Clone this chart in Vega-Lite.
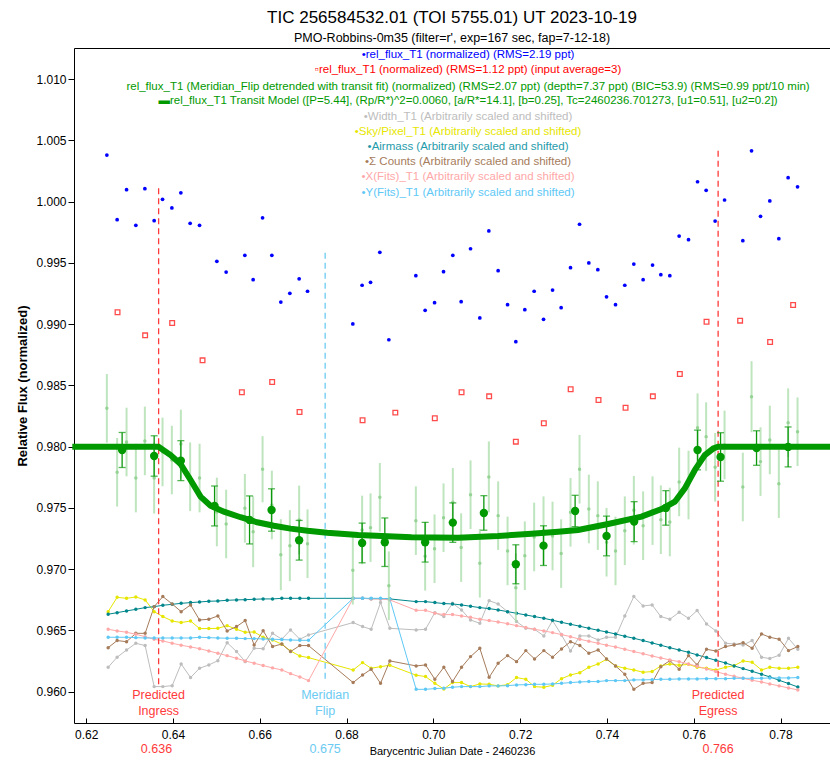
{
"$schema":"https://vega.github.io/schema/vega-lite/v6.json",
"autosize":{"type":"none"},
"padding":{"left":74,"top":48,"right":0,"bottom":39},
"width":756,"height":675,
"background":"white",
"config":{"view":{"stroke":"#000","strokeWidth":1},"font":"Liberation Sans","axis":{"grid":false,"domain":false}},
"title":{"text":"TIC 256584532.01 (TOI 5755.01) UT 2023-10-19","subtitle":"PMO-Robbins-0m35 (filter=r', exp=167 sec, fap=7-12-18)","font":"Liberation Sans","subtitleFont":"Liberation Sans","fontSize":17,"subtitleFontSize":12.5,"fontWeight":"normal","color":"#000","subtitleColor":"#000","anchor":"middle","offset":3,"subtitlePadding":5},
"datasets":{
"blue":[{"x":0.62477,"y":1.00381},{"x":0.62714,"y":0.99853},{"x":0.62931,"y":1.00098},{"x":0.63145,"y":0.99807},{"x":0.63353,"y":1.00106},{"x":0.63567,"y":0.99845},{"x":0.6376,"y":1.0002},{"x":0.63975,"y":0.99949},{"x":0.64182,"y":1.00073},{"x":0.64396,"y":0.99824},{"x":0.64613,"y":0.99807},{"x":0.65012,"y":0.99513},{"x":0.65226,"y":0.99426},{"x":0.65657,"y":0.99562},{"x":0.65848,"y":0.99363},{"x":0.66065,"y":0.99869},{"x":0.66279,"y":0.99562},{"x":0.66486,"y":0.99181},{"x":0.66694,"y":0.99252},{"x":0.66908,"y":0.99371},{"x":0.67101,"y":0.99269},{"x":0.68145,"y":0.99002},{"x":0.68359,"y":0.99318},{"x":0.68553,"y":0.99342},{"x":0.68767,"y":0.99587},{"x":0.68975,"y":0.98873},{"x":0.69597,"y":0.99396},{"x":0.69811,"y":0.99113},{"x":0.70028,"y":0.99176},{"x":0.70235,"y":0.99429},{"x":0.70449,"y":0.99562},{"x":0.70641,"y":0.99184},{"x":0.70857,"y":0.99616},{"x":0.71071,"y":0.99051},{"x":0.71279,"y":0.99761},{"x":0.71493,"y":0.99437},{"x":0.7171,"y":0.99159},{"x":0.71901,"y":0.98857},{"x":0.72108,"y":0.99118},{"x":0.72323,"y":0.99269},{"x":0.72539,"y":0.9904},{"x":0.72747,"y":0.99279},{"x":0.72945,"y":0.99135},{"x":0.73161,"y":0.99461},{"x":0.73369,"y":0.99816},{"x":0.73583,"y":0.995},{"x":0.7379,"y":0.99445},{"x":0.73991,"y":0.99224},{"x":0.74198,"y":0.99159},{"x":0.74412,"y":0.99318},{"x":0.7462,"y":0.99491},{"x":0.74834,"y":0.99363},{"x":0.75051,"y":0.99483},{"x":0.75242,"y":0.99404},{"x":0.75449,"y":0.99396},{"x":0.75664,"y":0.9972},{"x":0.7588,"y":0.9969},{"x":0.76088,"y":1.00163},{"x":0.76286,"y":1.00093},{"x":0.76493,"y":0.99842},{"x":0.7671,"y":1.00014},{"x":0.77131,"y":0.99682},{"x":0.77332,"y":1.00416},{"x":0.77539,"y":0.99881},{"x":0.77753,"y":1.00006},{"x":0.77961,"y":0.99698},{"x":0.78175,"y":1.00196},{"x":0.78392,"y":1.00122}],
"red":[{"x":0.62723,"y":0.99097},{"x":0.63359,"y":0.98909},{"x":0.63982,"y":0.9901},{"x":0.64682,"y":0.98705},{"x":0.65588,"y":0.98444},{"x":0.66286,"y":0.98528},{"x":0.66917,"y":0.98283},{"x":0.68369,"y":0.98216},{"x":0.69124,"y":0.98278},{"x":0.70034,"y":0.98232},{"x":0.7065,"y":0.98444},{"x":0.71286,"y":0.98411},{"x":0.71901,"y":0.98041},{"x":0.72546,"y":0.98191},{"x":0.73164,"y":0.98469},{"x":0.73806,"y":0.98381},{"x":0.74429,"y":0.98318},{"x":0.75058,"y":0.98411},{"x":0.7568,"y":0.98593},{"x":0.76295,"y":0.9902},{"x":0.77069,"y":0.99029},{"x":0.7776,"y":0.98855},{"x":0.7829,"y":0.99157}],
"light":[{"x":0.62477,"y":0.98313,"e":0.0028},{"x":0.62714,"y":0.97791,"e":0.0028},{"x":0.62931,"y":0.98038,"e":0.0028},{"x":0.63145,"y":0.97744,"e":0.0028},{"x":0.63353,"y":0.98047,"e":0.0028},{"x":0.63567,"y":0.97744,"e":0.0029},{"x":0.6376,"y":0.97957,"e":0.0028},{"x":0.63975,"y":0.97891,"e":0.0028},{"x":0.64182,"y":0.98022,"e":0.0028},{"x":0.64396,"y":0.97755,"e":0.0028},{"x":0.64613,"y":0.97744,"e":0.0028},{"x":0.65012,"y":0.97467,"e":0.0028},{"x":0.65226,"y":0.97369,"e":0.0028},{"x":0.65657,"y":0.97497,"e":0.0028},{"x":0.65848,"y":0.97306,"e":0.0029},{"x":0.66065,"y":0.97816,"e":0.0027},{"x":0.66279,"y":0.97524,"e":0.0028},{"x":0.66486,"y":0.97118,"e":0.0029},{"x":0.66694,"y":0.97192,"e":0.0029},{"x":0.66908,"y":0.97402,"e":0.0028},{"x":0.67101,"y":0.97208,"e":0.0028},{"x":0.68145,"y":0.96991,"e":0.0028},{"x":0.68359,"y":0.9732,"e":0.0028},{"x":0.68553,"y":0.97339,"e":0.0028},{"x":0.68767,"y":0.97587,"e":0.0028},{"x":0.68975,"y":0.96865,"e":0.0028},{"x":0.69597,"y":0.97396,"e":0.0028},{"x":0.69811,"y":0.97105,"e":0.0028},{"x":0.70028,"y":0.97167,"e":0.0028},{"x":0.70235,"y":0.9742,"e":0.0028},{"x":0.70449,"y":0.97546,"e":0.0028},{"x":0.70641,"y":0.97176,"e":0.0028},{"x":0.70857,"y":0.97608,"e":0.0028},{"x":0.71071,"y":0.97048,"e":0.0028},{"x":0.71279,"y":0.97753,"e":0.0029},{"x":0.71493,"y":0.97437,"e":0.0028},{"x":0.7171,"y":0.97149,"e":0.0028},{"x":0.71901,"y":0.96849,"e":0.0028},{"x":0.72108,"y":0.9711,"e":0.0028},{"x":0.72323,"y":0.97263,"e":0.0028},{"x":0.72539,"y":0.97314,"e":0.0028},{"x":0.72747,"y":0.97271,"e":0.0028},{"x":0.72945,"y":0.97127,"e":0.0028},{"x":0.73161,"y":0.97464,"e":0.0028},{"x":0.73369,"y":0.97816,"e":0.0028},{"x":0.73583,"y":0.97491,"e":0.0028},{"x":0.7379,"y":0.97437,"e":0.0028},{"x":0.73991,"y":0.9722,"e":0.0028},{"x":0.74198,"y":0.97149,"e":0.0028},{"x":0.74412,"y":0.97314,"e":0.0028},{"x":0.7462,"y":0.97481,"e":0.0028},{"x":0.74834,"y":0.97355,"e":0.0028},{"x":0.75051,"y":0.97478,"e":0.0028},{"x":0.75242,"y":0.97404,"e":0.0028},{"x":0.75449,"y":0.97385,"e":0.0028},{"x":0.75664,"y":0.97712,"e":0.0028},{"x":0.7588,"y":0.97687,"e":0.0028},{"x":0.76088,"y":0.98155,"e":0.0028},{"x":0.76286,"y":0.98082,"e":0.0028},{"x":0.76493,"y":0.97832,"e":0.0028},{"x":0.7671,"y":0.98014,"e":0.0028},{"x":0.77131,"y":0.97671,"e":0.0028},{"x":0.77332,"y":0.98408,"e":0.0029},{"x":0.77539,"y":0.97878,"e":0.0028},{"x":0.77753,"y":0.98055,"e":0.0028},{"x":0.77961,"y":0.97698,"e":0.0028},{"x":0.78175,"y":0.98196,"e":0.0028},{"x":0.78392,"y":0.98122,"e":0.0028}],
"binned":[{"x":0.62829,"y":0.97973,"e":0.00143},{"x":0.63567,"y":0.97924,"e":0.00165},{"x":0.64182,"y":0.97886,"e":0.00163},{"x":0.64959,"y":0.97516,"e":0.00163},{"x":0.65765,"y":0.97402,"e":0.00196},{"x":0.66272,"y":0.97483,"e":0.00173},{"x":0.66908,"y":0.97236,"e":0.00162},{"x":0.68359,"y":0.97214,"e":0.00162},{"x":0.68882,"y":0.9722,"e":0.00198},{"x":0.69811,"y":0.9722,"e":0.00162},{"x":0.70449,"y":0.9738,"e":0.00161},{"x":0.71164,"y":0.97459,"e":0.00141},{"x":0.71901,"y":0.9704,"e":0.00159},{"x":0.72539,"y":0.97192,"e":0.00162},{"x":0.73267,"y":0.97475,"e":0.00128},{"x":0.73991,"y":0.97271,"e":0.00162},{"x":0.74627,"y":0.97388,"e":0.00163},{"x":0.75357,"y":0.975,"e":0.00141},{"x":0.76088,"y":0.97973,"e":0.00162},{"x":0.76618,"y":0.97916,"e":0.00198},{"x":0.77447,"y":0.97989,"e":0.00141},{"x":0.78175,"y":0.97998,"e":0.00163}],
"model":[{"x":0.6175,"y":0.98},{"x":0.63668,"y":0.98},{"x":0.63945,"y":0.97932},{"x":0.64175,"y":0.97859},{"x":0.64406,"y":0.97728},{"x":0.64636,"y":0.97592},{"x":0.64866,"y":0.97518},{"x":0.65173,"y":0.97469},{"x":0.65558,"y":0.97424},{"x":0.6594,"y":0.97383},{"x":0.66325,"y":0.97355},{"x":0.6671,"y":0.97331},{"x":0.67101,"y":0.97314},{"x":0.67553,"y":0.97298},{"x":0.68267,"y":0.97279},{"x":0.69498,"y":0.9726},{"x":0.70571,"y":0.97257},{"x":0.71493,"y":0.97271},{"x":0.72263,"y":0.9729},{"x":0.72876,"y":0.97306},{"x":0.73336,"y":0.9732},{"x":0.74028,"y":0.97369},{"x":0.74797,"y":0.97429},{"x":0.75258,"y":0.97491},{"x":0.75565,"y":0.97551},{"x":0.75795,"y":0.9766},{"x":0.76026,"y":0.9781},{"x":0.76256,"y":0.97932},{"x":0.7645,"y":0.97985},{"x":0.76562,"y":0.98},{"x":0.7912,"y":0.98}],
"aux":[
{"x":0.62507,"w":0.96199,"sky":0.96653,"am":0.96632,"cnt":0.96359,"xf":0.96509,"yf":0.96444},
{"x":0.62714,"w":0.96281,"sky":0.9677,"am":0.96645,"cnt":0.96417,"xf":0.96496,"yf":0.96444},
{"x":0.62931,"w":0.9634,"sky":0.96762,"am":0.96659,"cnt":0.96408,"xf":0.96485,"yf":0.96444},
{"x":0.63145,"w":0.96395,"sky":0.96773,"am":0.96672,"cnt":0.96476,"xf":0.96468,"yf":0.96441},
{"x":0.63359,"w":0.96376,"sky":0.96749,"am":0.96686,"cnt":0.96476,"xf":0.96449,"yf":0.96438},
{"x":0.63567,"w":0.96041,"sky":0.96653,"am":0.96694,"cnt":0.96694,"xf":0.96428,"yf":0.96438},
{"x":0.63767,"w":0.96041,"sky":0.96613,"am":0.96705,"cnt":0.96776,"xf":0.96414,"yf":0.96438},
{"x":0.63982,"w":0.96049,"sky":0.96577,"am":0.96713,"cnt":0.96716,"xf":0.96395,"yf":0.96438},
{"x":0.64189,"w":0.96226,"sky":0.96564,"am":0.96721,"cnt":0.96653,"xf":0.96379,"yf":0.96438},
{"x":0.64406,"w":0.96115,"sky":0.96577,"am":0.96727,"cnt":0.96708,"xf":0.96365,"yf":0.96438},
{"x":0.64613,"w":0.96191,"sky":0.96515,"am":0.96732,"cnt":0.96585,"xf":0.96351,"yf":0.96444},
{"x":0.64827,"w":0.96218,"sky":0.96515,"am":0.96738,"cnt":0.96591,"xf":0.96332,"yf":0.96441},
{"x":0.65035,"w":0.96253,"sky":0.96517,"am":0.9674,"cnt":0.96618,"xf":0.96313,"yf":0.96438},
{"x":0.65249,"w":0.964,"sky":0.96539,"am":0.96746,"cnt":0.96496,"xf":0.96294,"yf":0.96436},
{"x":0.65465,"w":0.96327,"sky":0.96509,"am":0.96749,"cnt":0.96531,"xf":0.96272,"yf":0.96436},
{"x":0.65664,"w":0.96245,"sky":0.96485,"am":0.96751,"cnt":0.9658,"xf":0.96251,"yf":0.96433},
{"x":0.65871,"w":0.96354,"sky":0.96487,"am":0.96754,"cnt":0.96381,"xf":0.96232,"yf":0.96433},
{"x":0.66078,"w":0.96351,"sky":0.96444,"am":0.96757,"cnt":0.96498,"xf":0.96213,"yf":0.9643},
{"x":0.66295,"w":0.96476,"sky":0.96422,"am":0.96757,"cnt":0.96368,"xf":0.96194,"yf":0.96428},
{"x":0.66509,"w":0.96428,"sky":0.96387,"am":0.96762,"cnt":0.96389,"xf":0.96177,"yf":0.96425},
{"x":0.6671,"w":0.96504,"sky":0.96332,"am":0.96762,"cnt":0.96327,"xf":0.96147,"yf":0.96422},
{"x":0.66924,"w":0.96428,"sky":0.96291,"am":0.96762,"cnt":0.96376,"xf":0.9612,"yf":0.96419},
{"x":0.67124,"w":0.96463,"sky":0.96278,"am":0.96762,"cnt":0.96376,"xf":0.9609,"yf":0.96419},
{"x":0.68152,"w":0.96564,"sky":0.96177,"am":0.96762,"cnt":0.96074,"xf":0.96762,"yf":0.96762},
{"x":0.68369,"w":0.96531,"sky":0.96237,"am":0.96762,"cnt":0.96136,"xf":0.96762,"yf":0.96762},
{"x":0.68567,"w":0.96509,"sky":0.96191,"am":0.96759,"cnt":0.96183,"xf":0.96757,"yf":0.96762},
{"x":0.68783,"w":0.96727,"sky":0.96204,"am":0.96759,"cnt":0.96068,"xf":0.96757,"yf":0.96762},
{"x":0.68998,"w":0.96517,"sky":0.96215,"am":0.96757,"cnt":0.96251,"xf":0.96749,"yf":0.96757},
{"x":0.69604,"w":0.96504,"sky":0.96134,"am":0.96735,"cnt":0.9621,"xf":0.96664,"yf":0.96019},
{"x":0.6982,"w":0.96509,"sky":0.96123,"am":0.96735,"cnt":0.96218,"xf":0.96664,"yf":0.96019},
{"x":0.70035,"w":0.96645,"sky":0.96068,"am":0.96727,"cnt":0.96101,"xf":0.9664,"yf":0.96025},
{"x":0.70242,"w":0.96613,"sky":0.96022,"am":0.96719,"cnt":0.96199,"xf":0.96629,"yf":0.96028},
{"x":0.70442,"w":0.96721,"sky":0.96074,"am":0.96716,"cnt":0.96082,"xf":0.96629,"yf":0.96036},
{"x":0.7065,"w":0.96667,"sky":0.96074,"am":0.96708,"cnt":0.96199,"xf":0.96618,"yf":0.96041},
{"x":0.70857,"w":0.96585,"sky":0.96041,"am":0.96697,"cnt":0.96286,"xf":0.96607,"yf":0.96041},
{"x":0.71071,"w":0.96558,"sky":0.96063,"am":0.96686,"cnt":0.96354,"xf":0.96591,"yf":0.96041},
{"x":0.71286,"w":0.96743,"sky":0.9606,"am":0.96678,"cnt":0.96117,"xf":0.9658,"yf":0.96047},
{"x":0.71493,"w":0.96716,"sky":0.96047,"am":0.96667,"cnt":0.96232,"xf":0.96569,"yf":0.96047},
{"x":0.7171,"w":0.96653,"sky":0.96057,"am":0.96653,"cnt":0.96294,"xf":0.96555,"yf":0.96049},
{"x":0.71917,"w":0.96572,"sky":0.96115,"am":0.9664,"cnt":0.96245,"xf":0.96539,"yf":0.96055},
{"x":0.72131,"w":0.96517,"sky":0.96101,"am":0.96626,"cnt":0.96335,"xf":0.96523,"yf":0.96057},
{"x":0.72332,"w":0.96509,"sky":0.96041,"am":0.96613,"cnt":0.96267,"xf":0.96509,"yf":0.9606},
{"x":0.72546,"w":0.96455,"sky":0.96036,"am":0.96599,"cnt":0.96335,"xf":0.96496,"yf":0.9606},
{"x":0.72747,"w":0.9658,"sky":0.96052,"am":0.96583,"cnt":0.96281,"xf":0.96482,"yf":0.96063},
{"x":0.72954,"w":0.96463,"sky":0.96106,"am":0.96566,"cnt":0.96349,"xf":0.96466,"yf":0.96068},
{"x":0.73161,"w":0.96332,"sky":0.96136,"am":0.9655,"cnt":0.96408,"xf":0.96449,"yf":0.96074},
{"x":0.73376,"w":0.96455,"sky":0.96155,"am":0.96534,"cnt":0.96376,"xf":0.96428,"yf":0.96079},
{"x":0.73583,"w":0.96455,"sky":0.96199,"am":0.96517,"cnt":0.96313,"xf":0.96411,"yf":0.96082},
{"x":0.73797,"w":0.96422,"sky":0.96226,"am":0.96501,"cnt":0.9634,"xf":0.96395,"yf":0.96082},
{"x":0.73991,"w":0.96444,"sky":0.96264,"am":0.96487,"cnt":0.96267,"xf":0.96379,"yf":0.9609},
{"x":0.74198,"w":0.96444,"sky":0.9621,"am":0.96471,"cnt":0.9621,"xf":0.96365,"yf":0.9609},
{"x":0.74412,"w":0.96618,"sky":0.96191,"am":0.96452,"cnt":0.96142,"xf":0.96346,"yf":0.9609},
{"x":0.7462,"w":0.96776,"sky":0.96177,"am":0.96436,"cnt":0.96019,"xf":0.96327,"yf":0.96096},
{"x":0.74834,"w":0.967,"sky":0.96158,"am":0.96417,"cnt":0.96068,"xf":0.9631,"yf":0.96096},
{"x":0.75041,"w":0.96708,"sky":0.96164,"am":0.96398,"cnt":0.96074,"xf":0.96291,"yf":0.96098},
{"x":0.75242,"w":0.96613,"sky":0.9621,"am":0.96379,"cnt":0.96204,"xf":0.96275,"yf":0.96101},
{"x":0.75449,"w":0.96591,"sky":0.96226,"am":0.96359,"cnt":0.96253,"xf":0.96259,"yf":0.96101},
{"x":0.75664,"w":0.96648,"sky":0.96215,"am":0.9634,"cnt":0.96183,"xf":0.96245,"yf":0.96104},
{"x":0.7588,"w":0.96599,"sky":0.96223,"am":0.96321,"cnt":0.96294,"xf":0.96226,"yf":0.96104},
{"x":0.76078,"w":0.96662,"sky":0.96199,"am":0.963,"cnt":0.96218,"xf":0.96207,"yf":0.96104},
{"x":0.76295,"w":0.96553,"sky":0.96191,"am":0.96278,"cnt":0.96346,"xf":0.96185,"yf":0.96106},
{"x":0.76509,"w":0.96496,"sky":0.96177,"am":0.96256,"cnt":0.96332,"xf":0.96164,"yf":0.96106},
{"x":0.76733,"w":0.96395,"sky":0.96199,"am":0.96234,"cnt":0.96368,"xf":0.96142,"yf":0.96106},
{"x":0.76931,"w":0.96389,"sky":0.96212,"am":0.9621,"cnt":0.96381,"xf":0.96125,"yf":0.96109},
{"x":0.77138,"w":0.96381,"sky":0.96251,"am":0.96188,"cnt":0.964,"xf":0.96109,"yf":0.96109},
{"x":0.77346,"w":0.96417,"sky":0.9624,"am":0.96166,"cnt":0.96354,"xf":0.96093,"yf":0.96109},
{"x":0.77562,"w":0.96281,"sky":0.96177,"am":0.96142,"cnt":0.96471,"xf":0.96079,"yf":0.96109},
{"x":0.77753,"w":0.9627,"sky":0.96199,"am":0.9612,"cnt":0.96444,"xf":0.96063,"yf":0.96112},
{"x":0.77968,"w":0.96297,"sky":0.96191,"am":0.96093,"cnt":0.96428,"xf":0.96047,"yf":0.96112},
{"x":0.78184,"w":0.96436,"sky":0.96191,"am":0.96066,"cnt":0.96335,"xf":0.9603,"yf":0.96112},
{"x":0.78399,"w":0.96346,"sky":0.96199,"am":0.96038,"cnt":0.96368,"xf":0.96014,"yf":0.96115}
],
"markers":[{"x":0.6367,"y":1.00109,"y2":0.96041,"s":"ing"},{"x":0.67507,"y":0.99584,"y2":0.96101,"s":"mf"},{"x":0.76562,"y":1.00416,"y2":0.96096,"s":"ing"}],
"mlabels":[{"x":0.6367,"y":0.95973,"t":"Predicted","s":"ing"},{"x":0.6367,"y":0.95843,"t":"Ingress","s":"ing"},{"x":0.6362,"y":0.9553,"t":"0.636","s":"ing"},{"x":0.67507,"y":0.95973,"t":"Meridian","s":"mf"},{"x":0.67507,"y":0.95843,"t":"Flip","s":"mf"},{"x":0.67507,"y":0.9553,"t":"0.675","s":"mf"},{"x":0.76562,"y":0.95973,"t":"Predicted","s":"ing"},{"x":0.76562,"y":0.95843,"t":"Egress","s":"ing"},{"x":0.76562,"y":0.9553,"t":"0.766","s":"ing"}],
"legend":[{"x":0.708,"y":1.01198,"s":"blue","t":"•rel_flux_T1 (normalized) (RMS=2.19 ppt)"},{"x":0.708,"y":1.01073,"s":"red","t":"▫rel_flux_T1 (normalized) (RMS=1.12 ppt) (input average=3)"},{"x":0.708,"y":1.00937,"s":"green","t":"rel_flux_T1 (Meridian_Flip detrended with transit fit) (normalized) (RMS=2.07 ppt) (depth=7.37 ppt) (BIC=53.9) (RMS=0.99 ppt/10 min)"},{"x":0.708,"y":1.00822,"s":"green","t":"▬rel_flux_T1 Transit Model ([P=5.44], (Rp/R*)^2=0.0060, [a/R*=14.1], [b=0.25], Tc=2460236.701273, [u1=0.51], [u2=0.2])"},{"x":0.708,"y":1.00692,"s":"w","t":"•Width_T1 (Arbitrarily scaled and shifted)"},{"x":0.708,"y":1.00569,"s":"sky","t":"•Sky/Pixel_T1 (Arbitrarily scaled and shifted)"},{"x":0.708,"y":1.00447,"s":"amt","t":"•Airmass (Arbitrarily scaled and shifted)"},{"x":0.708,"y":1.00324,"s":"cnt","t":"•Σ Counts (Arbitrarily scaled and shifted)"},{"x":0.708,"y":1.00202,"s":"xf","t":"•X(Fits)_T1 (Arbitrarily scaled and shifted)"},{"x":0.708,"y":1.00071,"s":"yf","t":"•Y(Fits)_T1 (Arbitrarily scaled and shifted)"}]
},
"encoding":{
"x":{"field":"x","type":"quantitative","scale":{"domain":[0.6172,0.7914],"nice":false,"zero":false},"axis":{"values":[0.62,0.64,0.66,0.68,0.7,0.72,0.74,0.76,0.78],"format":".2f","title":"Barycentric Julian Date - 2460236","tickSize":-5,"tickColor":"#000","labelPadding":11,"labelFont":"Liberation Sans","labelFontSize":12,"labelColor":"#000","titleFont":"Liberation Sans","titleFontSize":11,"titleFontWeight":"normal","titleColor":"#000","titlePadding":5}},
"y":{"field":"y","type":"quantitative","scale":{"domain":[0.95744,1.01255],"nice":false,"zero":false},"axis":{"values":[0.96,0.965,0.97,0.975,0.98,0.985,0.99,0.995,1.0,1.005,1.01],"format":".3f","title":"Relative Flux (normalized)","tickSize":6,"tickColor":"#000","labelPadding":2,"labelFont":"Liberation Sans","labelFontSize":12,"labelColor":"#000","titleFont":"Liberation Sans","titleFontSize":13,"titleFontWeight":"bold","titleColor":"#000","titlePadding":6}}
},
"layer":[
{"data":{"name":"aux"},"transform":[{"fold":["w","sky","am","cnt","xf","yf"],"as":["s","y"]}],"mark":{"type":"line","strokeWidth":1,"point":{"filled":true,"size":12}},"encoding":{"color":{"field":"s","type":"nominal","legend":null,"scale":{"domain":["blue","red","green","w","sky","am","amt","cnt","xf","yf","ing","mf"],"range":["#0000ff","#ff0000","#009900","#bdbdbd","#e6e600","#00868b","#1f9bab","#a67c5b","#ffa8a8","#5ec8f5","#ff3a3a","#6ccbf2"]}}}},
{"data":{"name":"markers"},"mark":{"type":"rule","strokeDash":[6,4],"strokeWidth":1.3},"encoding":{"y2":{"field":"y2"},"color":{"field":"s","type":"nominal","legend":null}}},
{"data":{"name":"light"},"mark":{"type":"errorbar","ticks":false,"color":"#a8dca8","thickness":2,"opacity":0.75},"encoding":{"yError":{"field":"e"}}},
{"data":{"name":"light"},"mark":{"type":"circle","size":12,"color":"#8fd08f","opacity":0.9}},
{"data":{"name":"model"},"mark":{"type":"line","color":"#009900","strokeWidth":6,"strokeCap":"square"}},
{"data":{"name":"binned"},"mark":{"type":"errorbar","ticks":{"size":7},"color":"#0b980b","thickness":1.3},"encoding":{"yError":{"field":"e"}}},
{"data":{"name":"binned"},"mark":{"type":"circle","size":70,"color":"#009900","opacity":1}},
{"data":{"name":"red"},"mark":{"type":"square","size":22,"filled":false,"color":"#ff0000","strokeWidth":1.3}},
{"data":{"name":"blue"},"mark":{"type":"circle","size":14,"color":"#0000ff","opacity":1}},
{"data":{"name":"legend"},"mark":{"type":"text","font":"Liberation Sans","fontSize":11.5,"align":"center","baseline":"middle"},"encoding":{"text":{"field":"t"},"color":{"field":"s","type":"nominal","legend":null}}},
{"data":{"name":"mlabels"},"mark":{"type":"text","font":"Liberation Sans","fontSize":12.5,"align":"center","baseline":"middle"},"encoding":{"text":{"field":"t"},"color":{"field":"s","type":"nominal","legend":null}}}
]
}
